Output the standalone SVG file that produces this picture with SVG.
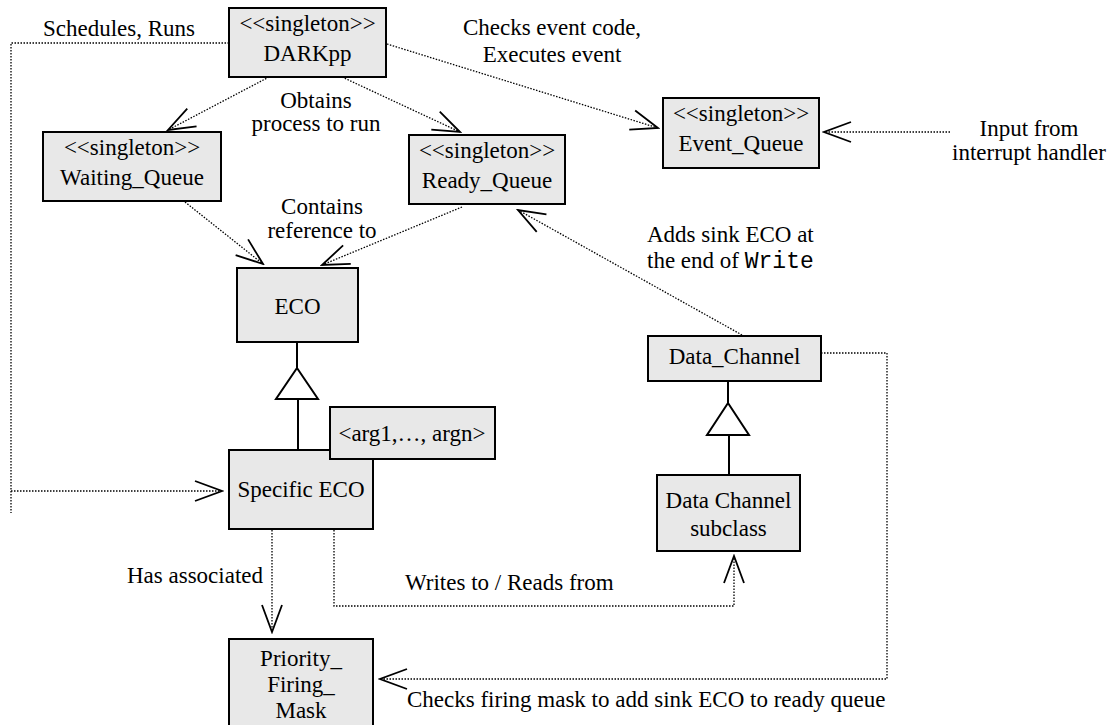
<svg xmlns="http://www.w3.org/2000/svg" width="1118" height="725" viewBox="0 0 1118 725">
<style>
  .box { fill: #e8e8e8; stroke: #000; stroke-width: 2; }
  .t { font-family: "Liberation Serif", "Times New Roman", serif; font-size: 23px; fill: #000; }
  .m { text-anchor: middle; }
  .mono { font-family: "Liberation Mono", "Courier New", monospace; }
  .dot { fill: none; stroke: #000; stroke-width: 1.3; stroke-dasharray: 1.5 1.5; }
  .solid { fill: none; stroke: #000; stroke-width: 2; }
  .tri { fill: #fff; stroke: #000; stroke-width: 2; }
</style>
<defs>
  <marker id="open" viewBox="-30 -15 32 30" markerWidth="32" markerHeight="30" refX="0" refY="0" orient="auto" markerUnits="userSpaceOnUse">
    <path d="M-27,-10 L0,0 L-27,10" fill="none" stroke="#000" stroke-width="1.8"/>
  </marker>
</defs>
<rect width="1118" height="725" fill="#fff"/>

<g id="connectors">
  <!-- Schedules, Runs -->
  <path class="dot" d="M229,43 H11 V513"/>
  <path class="dot" d="M11,491 H222" marker-end="url(#open)"/>
  <!-- DARKpp to Waiting_Queue -->
  <path class="dot" d="M269,77 L168,130" marker-end="url(#open)"/>
  <!-- DARKpp to Ready_Queue -->
  <path class="dot" d="M342,77 L460,132" marker-end="url(#open)"/>
  <!-- DARKpp to Event_Queue -->
  <path class="dot" d="M387,44 L658,128" marker-end="url(#open)"/>
  <!-- Input to Event_Queue -->
  <path class="dot" d="M950,132 H824" marker-end="url(#open)"/>
  <!-- Waiting_Queue to ECO -->
  <path class="dot" d="M185,202 L263,264" marker-end="url(#open)"/>
  <!-- Ready_Queue to ECO -->
  <path class="dot" d="M462,207 L322,265" marker-end="url(#open)"/>
  <!-- Data_Channel to Ready_Queue -->
  <path class="dot" d="M742,335 L518,210" marker-end="url(#open)"/>
  <!-- Specific ECO to Priority -->
  <path class="dot" d="M272,530 V632" marker-end="url(#open)"/>
  <!-- Writes to / Reads from -->
  <path class="dot" d="M334,530 V606 H734 V556" marker-end="url(#open)"/>
  <!-- Data_Channel to Priority -->
  <path class="dot" d="M821,353 H887 V679 H380" marker-end="url(#open)"/>
  <!-- Generalizations -->
  <path class="solid" d="M297,342 V368"/>
  <path class="tri" d="M297,368 L318,399 L276,399 Z"/>
  <path class="solid" d="M298,399 V450"/>
  <path class="solid" d="M728,381 V403"/>
  <path class="tri" d="M728,403 L749,435 L707,435 Z"/>
  <path class="solid" d="M729,435 V475"/>
</g>

<g id="labels">
  <text class="t" x="43" y="36">Schedules, Runs</text>
  <text class="t m" x="316" y="108">Obtains</text>
  <text class="t m" x="316" y="131">process to run</text>
  <text class="t m" x="552" y="35">Checks event code,</text>
  <text class="t m" x="552" y="62">Executes event</text>
  <text class="t m" x="1029" y="136">Input from</text>
  <text class="t m" x="1029" y="160">interrupt handler</text>
  <text class="t m" x="322" y="214">Contains</text>
  <text class="t m" x="322" y="238">reference to</text>
  <text class="t" x="647" y="242">Adds sink ECO at</text>
  <text class="t" x="647" y="268">the end of <tspan class="mono">Write</tspan></text>
  <text class="t" x="263" y="583" text-anchor="end">Has associated</text>
  <text class="t" x="405" y="590">Writes to / Reads from</text>
  <text class="t" x="407" y="707">Checks firing mask to add sink ECO to ready queue</text>
</g>

<g id="DARKpp">
  <rect class="box" x="229" y="8" width="157" height="69"/>
  <text class="t m" x="307.5" y="31">&lt;&lt;singleton&gt;&gt;</text>
  <text class="t m" x="307.5" y="61">DARKpp</text>
</g>
<g id="Waiting_Queue">
  <rect class="box" x="43" y="132" width="178" height="69"/>
  <text class="t m" x="132" y="155">&lt;&lt;singleton&gt;&gt;</text>
  <text class="t m" x="132" y="185">Waiting_Queue</text>
</g>
<g id="Ready_Queue">
  <rect class="box" x="409" y="135" width="156" height="69"/>
  <text class="t m" x="487" y="158">&lt;&lt;singleton&gt;&gt;</text>
  <text class="t m" x="487" y="188">Ready_Queue</text>
</g>
<g id="Event_Queue">
  <rect class="box" x="663" y="98" width="156" height="70"/>
  <text class="t m" x="741" y="121">&lt;&lt;singleton&gt;&gt;</text>
  <text class="t m" x="741" y="151">Event_Queue</text>
</g>
<g id="ECO">
  <rect class="box" x="237" y="268" width="121" height="74"/>
  <text class="t m" x="297.5" y="314">ECO</text>
</g>
<g id="Specific_ECO">
  <rect class="box" x="229" y="450" width="144" height="79"/>
  <text class="t m" x="301" y="497">Specific ECO</text>
</g>
<g id="Args">
  <rect class="box" x="330" y="407" width="165" height="52"/>
  <text class="t m" x="412" y="441">&lt;arg1,…, argn&gt;</text>
</g>
<g id="Data_Channel">
  <rect class="box" x="648" y="336" width="173" height="45"/>
  <text class="t m" x="734.5" y="364">Data_Channel</text>
</g>
<g id="Data_Channel_subclass">
  <rect class="box" x="657" y="475" width="143" height="76"/>
  <text class="t m" x="728.5" y="508">Data Channel</text>
  <text class="t m" x="728.5" y="536">subclass</text>
</g>
<g id="Priority_Firing_Mask">
  <rect class="box" x="229" y="639" width="144" height="100"/>
  <text class="t m" x="301" y="666">Priority_</text>
  <text class="t m" x="301" y="692">Firing_</text>
  <text class="t m" x="301" y="718">Mask</text>
</g>
</svg>
